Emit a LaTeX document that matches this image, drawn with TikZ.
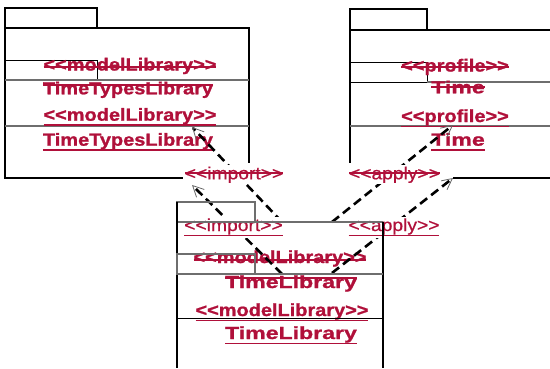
\documentclass[tikz,border=0pt]{standalone}
\usepackage{fontspec}
\newfontfamily\stereofont[Ligatures=TeXOff,FakeStretch=1.14,FakeBold=1.2]{Liberation Sans}
\newfontfamily\namefont[Ligatures=TeXOff,FakeStretch=1.32,FakeBold=1.2]{Liberation Sans}
\newfontfamily\relfont[Ligatures=TeXOff,FakeStretch=1.1,FakeBold=0.6]{Liberation Sans}
\usepackage{tikz}
\usetikzlibrary{positioning,arrows.meta}
\definecolor{diffred}{HTML}{B0103A}
\definecolor{fadegray}{HTML}{6E6E6E}

% struck and underlined text (rule drawn in the text colour)
\newcommand{\strikeword}[2]{\sbox0{#2}\rlap{\rule[#1]{\wd0}{1.8pt}}\usebox0}
\newcommand{\underword}[1]{\sbox0{#1}\rlap{\rule[-5.4pt]{\wd0}{1.8pt}}\usebox0}

\tikzset{
  pkgline/.style={line width=1.3pt, black},
  fadeline/.style={line width=1.1pt, fadegray},
  stereo/.style={anchor=base, inner sep=0pt, text=diffred,
    font=\stereofont\bfseries\fontsize{17.5}{21}\selectfont},
  widename/.style={stereo, font=\namefont\bfseries\fontsize{17.5}{21}\selectfont},
  rellabel/.style={anchor=base, inner sep=1.5pt, fill=white, text=diffred,
    font=\relfont\fontsize{17.5}{21}\selectfont},
  depline/.style={line width=2.6pt, dash pattern=on 9pt off 5pt,
    -{Straight Barb[length=11pt, width=11pt, line width=0.8pt, color=black!60]}}
}

\begin{document}
\begin{tikzpicture}[x=1pt, y=-1pt]
  \useasboundingbox (0,0) rectangle (550,368);

  % Package TimeTypesLibrary
  \draw[pkgline] (5,8) rectangle (97,28);
  \draw[pkgline] (5,8) -- (5,178) -- (183,178);
  \draw[pkgline] (5,28) -- (249,28) -- (249,163);
  \draw[pkgline, line width=1pt] (5,60) rectangle (97,80);
  \draw[fadeline] (5,80) -- (249,80);
  \draw[fadeline] (5,126) -- (249,126);

  % Package Time
  \draw[pkgline] (350,9) rectangle (427,30);
  \draw[pkgline] (350,9) -- (350,163);
  \draw[pkgline] (427,30) -- (550,30);
  \draw[pkgline, line width=1pt] (350,62) rectangle (427,82);
  \draw[fadeline] (427,82) -- (550,82);
  \draw[fadeline] (350,126) -- (550,126);
  \draw[pkgline] (453,178) -- (550,178);

  % Texts of the upper packages
  \node[stereo] (ttlStereoOld) at (130,70.5) {\strikeword{2.4pt}{<<modelLibrary>>}};
  \node[stereo] (ttlNameOld) at (128,94.3) {\strikeword{8.4pt}{TimeTypesLibrary}};
  \node[stereo] (ttlStereoNew) at (130,120.7) {\underword{<<modelLibrary>>}};
  \node[stereo] (ttlNameNew) at (128,145.7) {\underword{TimeTypesLibrary}};

  \node[stereo] (timeStereoOld) at (455,71.5) {\strikeword{3.9pt}{<<profile>>}};
  \node[widename] (timeNameOld) at (458,93.3) {\strikeword{5.1pt}{Time}};
  \node[stereo] (timeStereoNew) at (455,122) {\underword{<<profile>>}};
  \node[widename] (timeNameNew) at (458,145.7) {\underword{Time}};

  % Texts of package TimeLibrary
  \node[stereo] (tlStereoOld) at (280,263) {\strikeword{2.1pt}{<<modelLibrary>>}};
  \node[widename] (tlNameOld) at (291,288) {\strikeword{9.4pt}{TimeLibrary}};
  \node[stereo] (tlStereoNew) at (282,316) {\underword{<<modelLibrary>>}};
  \node[widename] (tlNameNew) at (291,339) {\underword{TimeLibrary}};

  % Dependencies
  \coordinate (impFromOld) at (282,222);
  \coordinate (impToOld) at (192,127);
  \coordinate (impFromNew) at (282,274);
  \coordinate (impToNew) at (192,185);
  \coordinate (aplFromOld) at (332,222);
  \coordinate (aplToOld) at (453,125);
  \coordinate (aplFromNew) at (332,273);
  \coordinate (aplToNew) at (453,178);
  \draw[depline] (impFromOld) -- (impToOld);
  \draw[depline] (impFromNew) -- (impToNew);
  \draw[depline] (aplFromOld) -- (aplToOld);
  \draw[depline] (aplFromNew) -- (aplToNew);

  \node[rellabel] (impLabelOld) at (234,179.3) {\strikeword{5.1pt}{<<import>>}};
  \node[rellabel] (aplLabelOld) at (394.5,179.3) {\strikeword{5.1pt}{<<apply>>}};
  \node[rellabel] (impLabelNew) at (233.5,231) {\underword{<<import>>}};
  \node[rellabel] (aplLabelNew) at (394,231) {\underword{<<apply>>}};

  % Package TimeLibrary
  \draw[fadeline] (177,202) rectangle (255,222);
  \draw[fadeline] (255,222) -- (383,222);
  \draw[pkgline] (177,202) -- (177,368);
  \draw[pkgline] (383,222) -- (383,368);
  \draw[fadeline] (177,254) rectangle (255,274);
  \draw[fadeline] (255,274) -- (383,274);
  \draw[pkgline, line width=1pt] (177,318) -- (383,318);
\end{tikzpicture}
\end{document}
